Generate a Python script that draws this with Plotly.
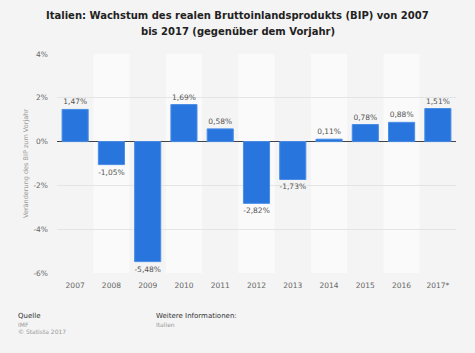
import plotly.graph_objects as go

years = ["2007", "2008", "2009", "2010", "2011", "2012", "2013", "2014", "2015", "2016", "2017*"]
growth = [1.47, -1.05, -5.48, 1.69, 0.58, -2.82, -1.73, 0.11, 0.78, 0.88, 1.51]
y_ticks = [-6, -4, -2, 0, 2, 4]
y_tick_labels = ["-6%", "-4%", "-2%", "0%", "2%", "4%"]

labels = [f"{v:.2f}".replace(".", ",") + "%" for v in growth]

FONT = "DejaVu Sans"
W, H = 475, 353
ML, MR, MT, MB = 57, 19, 54, 80
plot_w = W - ML - MR
plot_h = H - MT - MB

fig = go.Figure()
fig.add_trace(go.Bar(
    x=years, y=growth,
    marker=dict(color="#2876dd", line=dict(color="#4a8de6", width=1)),
    text=labels, textposition="outside", constraintext="none",
    textfont=dict(family=FONT, size=7.5, color="#555555"),
    cliponaxis=False,
))

shapes = []
for i in range(len(years)):
    if i % 2 == 1:
        shapes.append(dict(type="rect", xref="x", yref="paper", x0=i - 0.5, x1=i + 0.5,
                           y0=0, y1=1, fillcolor="#fafafa", line=dict(width=0), layer="below"))

fig.update_layout(
    width=W, height=H,
    margin=dict(l=ML, r=MR, t=MT, b=MB),
    paper_bgcolor="#f4f4f4", plot_bgcolor="#f4f4f4",
    bargap=0.28,
    showlegend=False,
    shapes=shapes,
    xaxis=dict(tickfont=dict(family=FONT, size=7.5, color="#666666"), showgrid=False,
               ticks="", showline=False, ticklabelstandoff=6),
    yaxis=dict(range=[-6, 4], tickvals=y_ticks, ticktext=y_tick_labels,
               tickfont=dict(family=FONT, size=7.5, color="#666666"),
               gridcolor="#e4e4e4", gridwidth=1, ticklabelstandoff=8,
               zeroline=True, zerolinecolor="#444444", zerolinewidth=1,
               title=dict(text="Veränderung des BIP zum Vorjahr", standoff=4,
                          font=dict(family=FONT, size=6.5, color="#999999"))),
)

def px_ann(text, xpx, ypx, size, color, anchor="left", bold=False):
    fig.add_annotation(
        text=text, xref="paper", yref="paper",
        x=(xpx - ML) / plot_w, y=(H - MB - ypx) / plot_h,
        xanchor=anchor, yanchor="middle", showarrow=False,
        font=dict(family=FONT, size=size, color=color, weight="bold" if bold else "normal"),
    )

px_ann("Italien: Wachstum des realen Bruttoinlandsprodukts (BIP) von 2007", 237.5, 16, 10, "#222222", "center", True)
px_ann("bis 2017 (gegenüber dem Vorjahr)", 237.5, 32, 10, "#222222", "center", True)
px_ann("Quelle", 16, 316, 7, "#333333")
px_ann("IMF", 16, 324, 6, "#999999")
px_ann("© Statista 2017", 16, 331, 6, "#999999")
px_ann("Weitere Informationen:", 154, 316, 7, "#333333")
px_ann("Italien", 154, 324, 6, "#999999")

fig.write_html("out.html")
